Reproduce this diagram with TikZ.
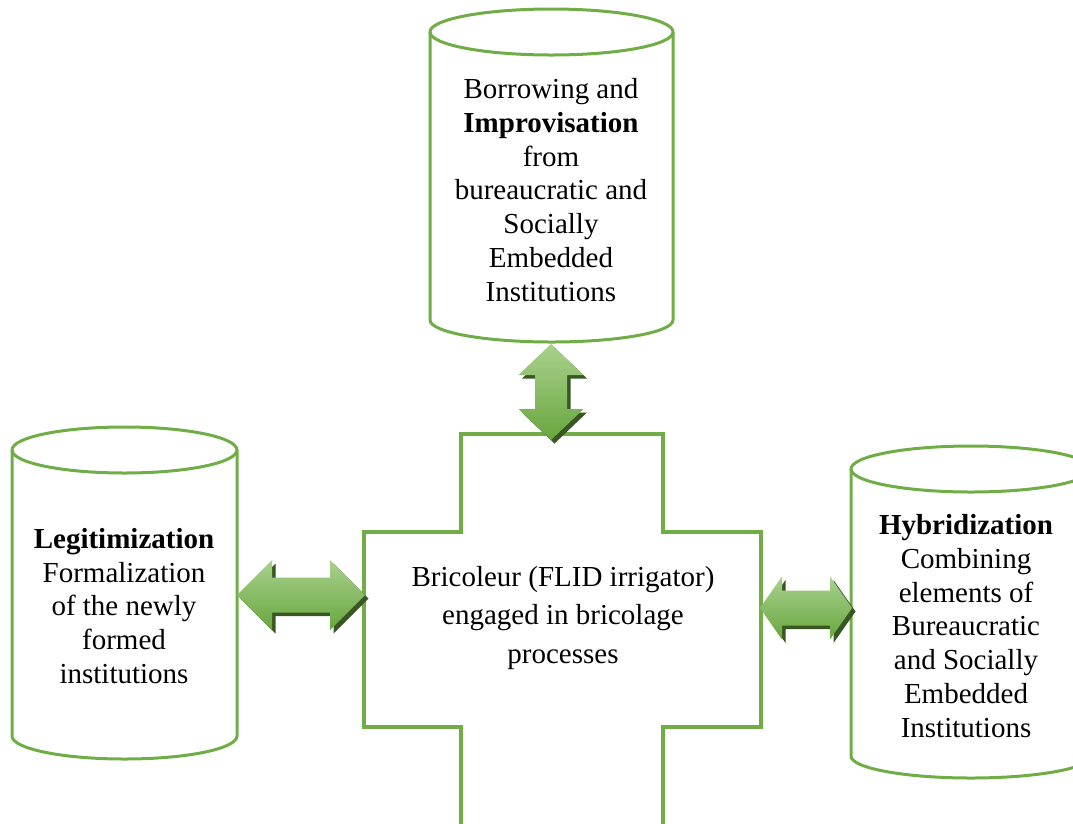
\documentclass[tikz,border=0pt]{standalone}
\usepackage{fontspec}
\setmainfont{Liberation Serif}
\usetikzlibrary{calc}

\definecolor{linegreen}{RGB}{112,173,71}
\definecolor{arrowlight}{RGB}{169,209,142}
\definecolor{arrowgreen}{RGB}{104,166,62}
\definecolor{arrowshadow}{RGB}{56,87,35}

% fat double arrow between two named points
% #1 style, #2 start, #3 end, #4 half shaft, #5 half head, #6 head length
\newcommand{\fatarrow}[6]{%
  \path[#1] (#2)
    -- ($(#2)!#6!(#3)!#5!90:(#3)$) -- ($(#2)!#6!(#3)!#4!90:(#3)$)
    -- ($(#3)!#6!(#2)!#4!-90:(#2)$) -- ($(#3)!#6!(#2)!#5!-90:(#2)$)
    -- (#3)
    -- ($(#3)!#6!(#2)!#5!90:(#2)$) -- ($(#3)!#6!(#2)!#4!90:(#2)$)
    -- ($(#2)!#6!(#3)!#4!-90:(#3)$) -- ($(#2)!#6!(#3)!#5!-90:(#3)$)
    -- cycle;}

\begin{document}
\begin{tikzpicture}[x=1pt, y=-1pt,
  cylline/.style={draw=linegreen, line width=3pt, line join=round},
  crossline/.style={draw=linegreen, line width=3.4pt, line join=miter},
  boxtext/.style={align=center, font=\fontsize{29}{33.7}\selectfont},
  arrowbody/.style={top color=arrowlight, bottom color=arrowgreen},
  arrowdrop/.style={fill=arrowshadow, transform canvas={shift={(3.5pt,-3.5pt)}}}]

  % Page size of the reference
  \useasboundingbox (0,0) rectangle (1073,823);
  \clip (0,0) rectangle (1073,823);

  % Top cylinder
  \draw[cylline] (430,32) -- (430,320) arc[start angle=180, end angle=360, x radius=121.5pt, y radius=22pt] -- (673,32);
  \draw[cylline] (551.5,32) ellipse [x radius=121.5pt, y radius=23pt];
  \node[boxtext] (borrow) at (551,190) {Borrowing and\\\textbf{Improvisation}\\from\\bureaucratic and\\Socially\\Embedded\\Institutions};

  % Left cylinder
  \draw[cylline] (12,450) -- (12,736) arc[start angle=180, end angle=360, x radius=112.5pt, y radius=23pt] -- (237,450);
  \draw[cylline] (124.5,450) ellipse [x radius=112.5pt, y radius=23pt];
  \node[boxtext] (legit) at (124,606) {\textbf{Legitimization}\\Formalization\\of the newly\\formed\\institutions};

  % Right cylinder (runs off the page)
  \draw[cylline] (851,469) -- (851,756) arc[start angle=180, end angle=360, x radius=120pt, y radius=22pt] -- (1091,469);
  \draw[cylline] (971,469) ellipse [x radius=120pt, y radius=23pt];
  \node[boxtext] (hybrid) at (966,626) {\textbf{Hybridization}\\Combining\\elements of\\Bureaucratic\\and Socially\\Embedded\\Institutions};

  % Cross in the middle (bottom cut by the page)
  \draw[crossline] (461,840) -- (461,727) -- (364,727) -- (364,532) -- (461,532) -- (461,434)
    -- (663,434) -- (663,532) -- (761,532) -- (761,727) -- (663,727) -- (663,840);
  \node[boxtext, font=\fontsize{29}{38.5}\selectfont] (bricoleur) at (563,618) {Bricoleur (FLID irrigator)\\engaged in bricolage\\processes};

  % Arrow end points
  \coordinate (topcyl) at (551,344);
  \coordinate (crosstop) at (551,440);
  \coordinate (leftcyl) at (237,595);
  \coordinate (crossleft) at (365,595);
  \coordinate (crossright) at (760,608);
  \coordinate (rightcyl) at (852,608);

  % Double arrows
  \fatarrow{arrowdrop}{topcyl}{crosstop}{16pt}{32.5pt}{31pt}
  \fatarrow{arrowbody}{topcyl}{crosstop}{16pt}{32.5pt}{31pt}
  \fatarrow{arrowdrop}{leftcyl}{crossleft}{17.5pt}{35pt}{35pt}
  \fatarrow{arrowbody}{leftcyl}{crossleft}{17.5pt}{35pt}{35pt}
  \fatarrow{arrowdrop}{crossright}{rightcyl}{17.5pt}{31.5pt}{22pt}
  \fatarrow{arrowbody}{crossright}{rightcyl}{17.5pt}{31.5pt}{22pt}
\end{tikzpicture}
\end{document}
